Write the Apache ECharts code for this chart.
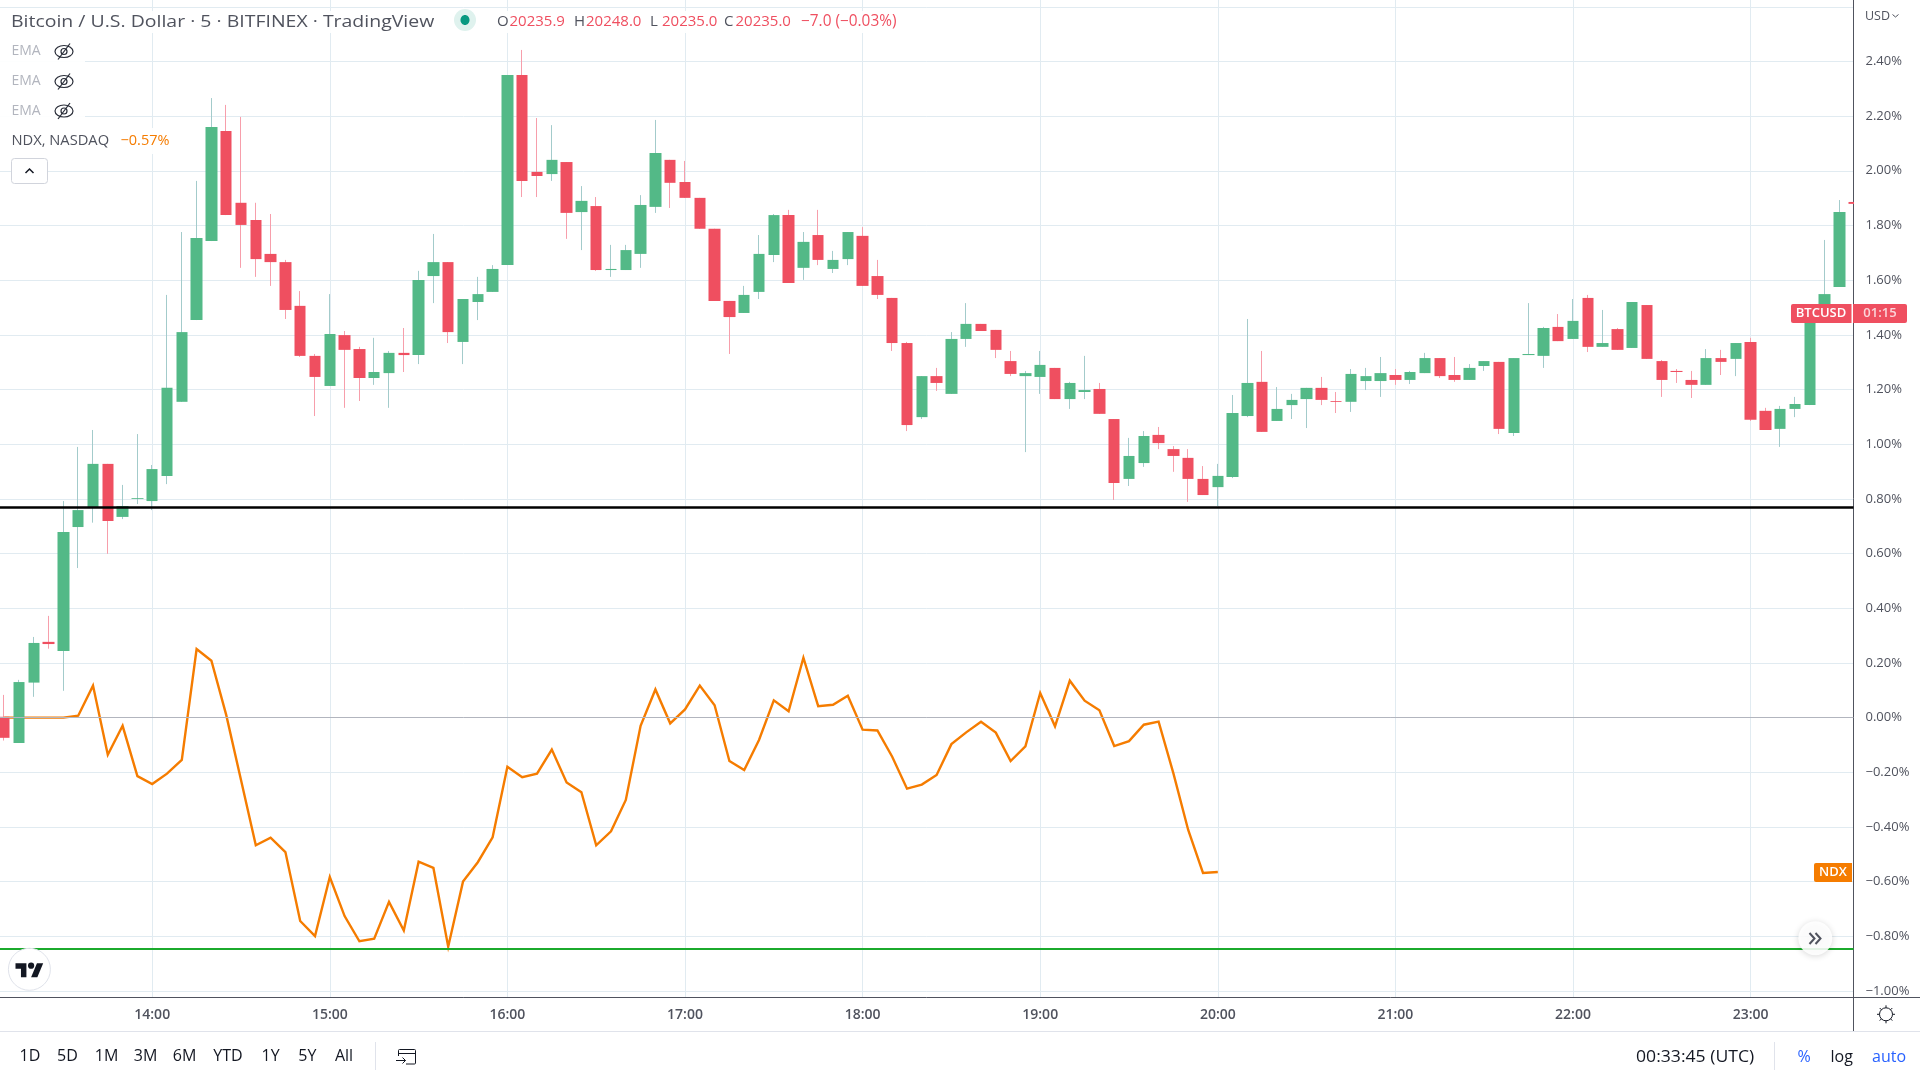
<!DOCTYPE html>
<html>
<head>
<meta charset="utf-8">
<title>BTCUSD vs NDX</title>
<script src="https://cdn.jsdelivr.net/npm/echarts@6/dist/echarts.min.js"></script>
<style>
html, body { margin: 0; padding: 0; background: #fff; }
#chart { width: 1920px; height: 1080px; }
</style>
</head>
<body>
<div id="chart"></div>
<script>
// 5 minute bars, in percent from the session start. first bar is 13:10
const firstBarMinute = 790
const barStep = 5

const opens = [
    0.003, -0.093, 0.128, 0.277, 0.244, 0.697, 0.769, 0.928, 0.734, 0.800,
    0.792, 0.884, 1.155, 1.454, 1.743, 2.146, 1.883, 1.820, 1.696, 1.666,
    1.506, 1.323, 1.213, 1.399, 1.348, 1.242, 1.260, 1.334, 1.326, 1.615,
    1.666, 1.374, 1.520, 1.557, 1.655, 2.350, 1.996, 1.988, 2.032, 1.849,
    1.871, 1.637, 1.637, 1.696, 1.868, 2.040, 1.959, 1.901, 1.788, 1.524,
    1.480, 1.557, 1.692, 1.838, 1.645, 1.765, 1.641, 1.677, 1.762, 1.615,
    1.535, 1.370, 1.099, 1.249, 1.184, 1.385, 1.440, 1.418, 1.304, 1.249,
    1.246, 1.279, 1.165, 1.191, 1.202, 1.092, 0.873, 0.931, 1.034, 0.982,
    0.950, 0.873, 0.843, 0.880, 1.103, 1.228, 1.085, 1.143, 1.165, 1.206,
    1.158, 1.155, 1.231, 1.231, 1.253, 1.235, 1.260, 1.315, 1.253, 1.235,
    1.286, 1.301, 1.041, 1.326, 1.323, 1.429, 1.385, 1.535, 1.356, 1.421,
    1.352, 1.509, 1.304, 1.268, 1.235, 1.217, 1.315, 1.312, 1.374, 1.122,
    1.056, 1.129, 1.143, 1.491, 1.575, 1.886
]
const closes = [
    -0.074, 0.130, 0.273, 0.269, 0.679, 0.759, 0.928, 0.719, 0.774, 0.803,
    0.909, 1.206, 1.410, 1.754, 2.160, 1.838, 1.802, 1.677, 1.666, 1.491,
    1.323, 1.246, 1.403, 1.345, 1.242, 1.264, 1.334, 1.326, 1.601, 1.666,
    1.410, 1.531, 1.549, 1.641, 2.350, 1.963, 1.981, 2.040, 1.846, 1.890,
    1.637, 1.641, 1.710, 1.875, 2.065, 1.956, 1.901, 1.788, 1.524, 1.465,
    1.546, 1.696, 1.838, 1.590, 1.740, 1.674, 1.674, 1.776, 1.579, 1.546,
    1.370, 1.070, 1.249, 1.224, 1.385, 1.440, 1.414, 1.345, 1.257, 1.260,
    1.290, 1.165, 1.224, 1.198, 1.111, 0.858, 0.957, 1.030, 1.004, 0.957,
    0.873, 0.814, 0.884, 1.114, 1.224, 1.045, 1.129, 1.162, 1.206, 1.162,
    1.155, 1.257, 1.249, 1.260, 1.235, 1.264, 1.315, 1.249, 1.235, 1.279,
    1.304, 1.056, 1.315, 1.330, 1.425, 1.377, 1.451, 1.356, 1.370, 1.345,
    1.520, 1.312, 1.235, 1.264, 1.217, 1.315, 1.301, 1.370, 1.089, 1.052,
    1.129, 1.147, 1.491, 1.549, 1.849, 1.879
]
const lows = [
    -0.084, -0.093, 0.076, 0.252, 0.098, 0.547, 0.713, 0.599, 0.726, 0.781,
    0.759, 0.854, 1.155, 1.454, 1.743, 1.838, 1.645, 1.612, 1.579, 1.458,
    1.319, 1.103, 1.213, 1.133, 1.158, 1.217, 1.133, 1.264, 1.293, 1.516,
    1.370, 1.293, 1.454, 1.557, 1.655, 1.904, 1.904, 1.963, 1.751, 1.710,
    1.634, 1.612, 1.637, 1.645, 1.846, 1.864, 1.901, 1.788, 1.524, 1.330,
    1.480, 1.531, 1.666, 1.590, 1.601, 1.655, 1.626, 1.655, 1.579, 1.531,
    1.341, 1.048, 1.092, 1.195, 1.184, 1.356, 1.414, 1.315, 1.249, 0.971,
    1.184, 1.165, 1.129, 1.165, 1.111, 0.796, 0.847, 0.917, 0.982, 0.899,
    0.789, 0.814, 0.774, 0.876, 1.099, 1.045, 1.085, 1.092, 1.059, 1.143,
    1.114, 1.118, 1.198, 1.173, 1.217, 1.220, 1.260, 1.242, 1.228, 1.235,
    1.268, 1.037, 1.030, 1.326, 1.279, 1.377, 1.385, 1.337, 1.356, 1.345,
    1.352, 1.312, 1.173, 1.224, 1.169, 1.217, 1.253, 1.249, 1.085, 1.052,
    0.990, 1.099, 1.143, 1.491, 1.575, 1.879
]
const highs = [
    0.083, 0.138, 0.295, 0.372, 0.792, 0.990, 1.052, 0.928, 0.851, 1.037,
    0.924, 1.546, 1.776, 1.963, 2.266, 2.241, 2.197, 1.883, 1.842, 1.674,
    1.560, 1.330, 1.549, 1.414, 1.356, 1.389, 1.341, 1.425, 1.634, 1.769,
    1.666, 1.531, 1.612, 1.655, 2.350, 2.442, 2.193, 2.167, 2.032, 1.944,
    1.904, 1.729, 1.729, 1.911, 2.186, 2.040, 2.036, 1.901, 1.788, 1.524,
    1.579, 1.765, 1.842, 1.857, 1.776, 1.857, 1.707, 1.776, 1.794, 1.674,
    1.535, 1.374, 1.249, 1.279, 1.410, 1.516, 1.440, 1.418, 1.341, 1.268,
    1.341, 1.279, 1.228, 1.323, 1.224, 1.092, 1.023, 1.048, 1.063, 0.993,
    0.982, 0.920, 0.928, 1.180, 1.458, 1.341, 1.209, 1.184, 1.206, 1.246,
    1.191, 1.275, 1.279, 1.319, 1.275, 1.268, 1.334, 1.315, 1.319, 1.293,
    1.304, 1.301, 1.315, 1.516, 1.429, 1.476, 1.531, 1.546, 1.491, 1.425,
    1.520, 1.509, 1.308, 1.275, 1.268, 1.348, 1.345, 1.370, 1.389, 1.133,
    1.140, 1.173, 1.491, 1.747, 1.893, 1.886
]
// NDX stops at 20:00, the cash session ended
const ndxValues = [
    0, 0, 0, 0, 0, 0.007, 0.117, -0.136, -0.030, -0.214,
    -0.243, -0.205, -0.155, 0.251, 0.208, 0.010, -0.228, -0.467, -0.439, -0.492,
    -0.744, -0.799, -0.583, -0.726, -0.818, -0.809, -0.674, -0.779, -0.527, -0.550,
    -0.838, -0.600, -0.529, -0.438, -0.180, -0.218, -0.205, -0.117, -0.237, -0.273,
    -0.467, -0.416, -0.301, -0.030, 0.103, -0.021, 0.030, 0.117, 0.045, -0.159,
    -0.192, -0.082, 0.063, 0.023, 0.219, 0.042, 0.047, 0.080, -0.044, -0.047,
    -0.143, -0.260, -0.245, -0.210, -0.097, -0.054, -0.015, -0.055, -0.159, -0.105,
    0.090, -0.032, 0.135, 0.062, 0.027, -0.104, -0.086, -0.026, -0.015, -0.204,
    -0.411, -0.568, -0.565
]
const hourTicks = [840, 900, 960, 1020, 1080, 1140, 1200, 1260, 1320, 1380]
const priceTicks = [-1, -0.8, -0.6, -0.4, -0.2, 0, 0.2, 0.4, 0.6, 0.8, 1, 1.2, 1.4, 1.6, 1.8, 2, 2.2, 2.4, 2.6]
const priceLabels = [-1, -0.8, -0.6, -0.4, -0.2, 0, 0.2, 0.4, 0.6, 0.8, 1, 1.2, 1.4, 1.6, 1.8, 2, 2.2, 2.4]
const blackLevel = 0.769
const greenLevel = -0.846
const rangeButtons = [['1D', 30], ['5D', 67.5], ['1M', 106.5], ['3M', 145.5], ['6M', 184.5], ['YTD', 228], ['1Y', 270.6], ['5Y', 307.3], ['All', 344]]

const UP = '#53B987'
const DOWN = '#EF4F60'
const UP_WICK = '#A3CBCB'
const DOWN_WICK = '#F79EAB'
const GRID = '#E1EBF1'
const AXIS = '#50535E'
const ORANGE = '#F57C00'
const FONT = '"Open Sans", sans-serif'

const barMinutes = opens.map((o, i) => firstBarMinute + i * barStep)
const wickData = opens.map((o, i) => [barMinutes[i], o, closes[i], lows[i], highs[i]])
// bodies are drawn on their own so the wick colour does not outline them
const bodyData = opens.map((o, i) => [barMinutes[i], o, closes[i], Math.min(o, closes[i]), Math.max(o, closes[i])])
const ndxData = ndxValues.map((v, i) => [barMinutes[i], v])

function label(text, x, y, color, size, extra) {
    return {
        type: 'text', z: 102, x: x, y: y,
        style: Object.assign({ text: text, fill: color, font: size + 'px ' + FONT, textVerticalAlign: 'middle' }, extra || {}),
    }
}
function eyeOff(cx, cy) {
    const stroke = { stroke: '#2A2E39', fill: 'none', lineWidth: 1.2 }
    return [
        { type: 'ellipse', z: 102, shape: { cx: cx, cy: cy, rx: 9, ry: 6 }, style: stroke },
        { type: 'circle', z: 102, shape: { cx: cx, cy: cy, r: 3 }, style: stroke },
        { type: 'line', z: 102, shape: { x1: cx - 6, y1: cy + 8, x2: cx + 6, y2: cy - 8 }, style: stroke },
    ]
}

function chrome() {
    const parts = []
    // white backing behind the legend rows
    ;[[0, 11, 905, 22], [0, 38, 85, 26], [0, 68, 85, 26], [0, 98, 85, 26], [0, 128, 176, 26]].forEach(r => {
        parts.push({ type: 'rect', z: 100, shape: { x: r[0], y: r[1], width: r[2], height: r[3] }, style: { fill: 'rgba(255,255,255,0.92)' } })
    })
    const title = label('Bitcoin / U.S. Dollar · 5 · BITFINEX · TradingView', 11, 22, '#50535E', 17)
    title.scaleX = 1.145
    parts.push(title)
    parts.push({ type: 'circle', z: 101, shape: { cx: 465, cy: 20, r: 11 }, style: { fill: '#DFF2EE' } })
    parts.push({ type: 'ellipse', z: 102, shape: { cx: 465, cy: 20, rx: 4.5, ry: 5 }, style: { fill: '#089981' } })
    ;[['O', 497, '20235.9', 509.5], ['H', 574, '20248.0', 586], ['L', 650, '20235.0', 662], ['C', 724, '20235.0', 735.5]].forEach(p => {
        parts.push(label(p[0], p[1], 22, '#50535E', 15))
        parts.push(label(p[2], p[3], 22, DOWN, 15))
    })
    parts.push(label('−7.0 (−0.03%)', 801, 22, DOWN, 15.4))

    ;[51.5, 81.5, 111].forEach(y => {
        parts.push(label('EMA', 11.5, y, '#B2B5BE', 14))
        parts.push.apply(parts, eyeOff(64, y))
    })
    parts.push(label('NDX, NASDAQ', 11.5, 141, '#50535E', 14.7))
    parts.push(label('−0.57%', 120.5, 141, ORANGE, 14.5))
    parts.push({ type: 'rect', z: 101, shape: { x: 11.5, y: 158.5, width: 36, height: 25, r: 3 }, style: { fill: '#fff', stroke: '#D1D4DC', lineWidth: 1 } })
    parts.push({ type: 'polyline', z: 102, shape: { points: [[25.5, 173], [29.5, 169], [33.5, 173]] }, style: { stroke: '#131722', fill: 'none', lineWidth: 1.5 } })

    // logo
    parts.push({ type: 'circle', z: 101, shape: { cx: 29.4, cy: 969.3, r: 21 }, style: { fill: '#fff', stroke: '#E0E3EB', lineWidth: 1 } })
    ;[
        [[14, 22], [7, 22], [7, 11], [0, 11], [0, 4], [14, 4]],
        [[28, 22], [20, 22], [27.5, 4], [35.5, 4]],
    ].forEach(points => {
        parts.push({ type: 'polygon', z: 102, x: 15.5, y: 960.2, scaleX: 0.78, scaleY: 0.78, shape: { points: points }, style: { fill: '#131722' } })
    })
    parts.push({ type: 'circle', z: 102, x: 15.5, y: 960.2, scaleX: 0.78, scaleY: 0.78, shape: { cx: 20, cy: 7, r: 4 }, style: { fill: '#131722' } })

    // the last bar runs under the price scale, candlesticks only clip whole boxes
    parts.push({ type: 'rect', z: 50, shape: { x: 1854, y: 190, width: 8, height: 22 }, style: { fill: '#fff' } })

    // price scale chips
    parts.push({ type: 'rect', z: 103, shape: { x: 1791, y: 304, width: 60.5, height: 19, r: [2, 0, 0, 2] }, style: { fill: DOWN } })
    parts.push({ type: 'rect', z: 103, shape: { x: 1853, y: 304, width: 54, height: 19, r: [0, 2, 2, 0] }, style: { fill: DOWN } })
    parts.push(Object.assign(label('BTCUSD', 1821, 313.5, '#fff', 13, { textAlign: 'center', font: '600 13px ' + FONT }), { z: 104 }))
    parts.push(Object.assign(label('01:15', 1880, 313.5, '#FBD5DA', 13, { textAlign: 'center', font: '600 13px ' + FONT }), { z: 104 }))
    parts.push({ type: 'rect', z: 103, shape: { x: 1814, y: 863, width: 38, height: 19, r: [2, 0, 0, 2] }, style: { fill: ORANGE } })
    parts.push(Object.assign(label('NDX', 1833, 872.5, '#fff', 13, { textAlign: 'center', font: '600 13px ' + FONT }), { z: 104 }))
    parts.push(label('USD', 1865, 16, AXIS, 12.5))
    parts.push({ type: 'polyline', z: 102, shape: { points: [[1892.5, 14.5], [1895.5, 17], [1898.5, 14.5]] }, style: { stroke: AXIS, fill: 'none', lineWidth: 1 } })

    // scroll to latest button
    parts.push({ type: 'circle', z: 101, shape: { cx: 1815.3, cy: 938.3, r: 17 }, style: { fill: 'rgba(255,255,255,0.88)', shadowBlur: 6, shadowColor: 'rgba(0,0,0,0.18)', shadowOffsetY: 1 } })
    ;[0, 6].forEach(dx => {
        parts.push({ type: 'polyline', z: 102, shape: { points: [[1809.5 + dx, 933], [1814.5 + dx, 938.5], [1809.5 + dx, 944]] }, style: { stroke: '#50535E', fill: 'none', lineWidth: 2 } })
    })

    // axis frame that the grid does not cover
    parts.push({ type: 'line', z: 102, shape: { x1: 1853.5, y1: 997.5, x2: 1853.5, y2: 1031 }, style: { stroke: AXIS, lineWidth: 1 } })
    parts.push({ type: 'line', z: 102, shape: { x1: 1853.5, y1: 997.5, x2: 1920, y2: 997.5 }, style: { stroke: AXIS, lineWidth: 1 } })
    parts.push({ type: 'line', z: 102, shape: { x1: 0, y1: 1031.5, x2: 1920, y2: 1031.5 }, style: { stroke: '#E0E3EB', lineWidth: 1 } })

    // settings icon
    parts.push({ type: 'circle', z: 102, shape: { cx: 1886, cy: 1014.3, r: 6.5 }, style: { stroke: '#131722', fill: 'none', lineWidth: 1 } })
    ;[[0, -1], [0.7, -0.7], [1, 0], [0.7, 0.7], [0, 1], [-0.7, 0.7], [-1, 0], [-0.7, -0.7]].forEach(d => {
        parts.push({ type: 'line', z: 102, shape: { x1: 1886 + d[0] * 6.5, y1: 1014.3 + d[1] * 6.5, x2: 1886 + d[0] * 9, y2: 1014.3 + d[1] * 9 }, style: { stroke: '#131722', lineWidth: 1 } })
    })

    // bottom toolbar
    rangeButtons.forEach(b => {
        parts.push(label(b[0], b[1], 1056, '#131722', 16, { textAlign: 'center' }))
    })
    parts.push({ type: 'line', z: 102, shape: { x1: 375.5, y1: 1042, x2: 375.5, y2: 1070 }, style: { stroke: '#E0E3EB', lineWidth: 1 } })
    parts.push({ type: 'rect', z: 102, shape: { x: 398.5, y: 1049.5, width: 17, height: 14.5, r: 1 }, style: { stroke: '#131722', fill: 'none', lineWidth: 1 } })
    parts.push({ type: 'rect', z: 102, shape: { x: 395, y: 1056, width: 11, height: 9 }, style: { fill: '#fff' } })
    parts.push({ type: 'line', z: 102, shape: { x1: 398.5, y1: 1053.5, x2: 415.5, y2: 1053.5 }, style: { stroke: '#131722', lineWidth: 1 } })
    parts.push({ type: 'polyline', z: 102, shape: { points: [[396, 1060.5], [405.5, 1060.5]] }, style: { stroke: '#131722', fill: 'none', lineWidth: 1 } })
    parts.push({ type: 'polyline', z: 102, shape: { points: [[402.5, 1057.5], [405.5, 1060.5], [402.5, 1063.5]] }, style: { stroke: '#131722', fill: 'none', lineWidth: 1 } })
    const clock = label('00:33:45 (UTC)', 1636, 1057, '#131722', 16)
    clock.scaleX = 1.1
    parts.push(clock)
    parts.push({ type: 'line', z: 102, shape: { x1: 1774.5, y1: 1042, x2: 1774.5, y2: 1070 }, style: { stroke: '#E0E3EB', lineWidth: 1 } })
    parts.push(label('%', 1804, 1057, '#2962FF', 16, { textAlign: 'center' }))
    parts.push(label('log', 1841.7, 1057, '#131722', 16, { textAlign: 'center' }))
    parts.push(label('auto', 1889, 1057, '#2962FF', 16, { textAlign: 'center' }))
    return parts
}

const chart = echarts.init(document.getElementById('chart'), null, { renderer: 'canvas' })
chart.setOption({
    animation: false,
    backgroundColor: '#fff',
    grid: { left: 0, top: 0, width: 1853.5, height: 997.5 },
    xAxis: {
        type: 'value',
        min: 788.58,
        max: 1414.76,
        axisLine: { onZero: false, lineStyle: { color: AXIS, width: 1 } },
        axisTick: { show: false, customValues: hourTicks },
        splitLine: { show: true, lineStyle: { color: GRID, width: 1 } },
        axisLabel: {
            customValues: hourTicks,
            color: AXIS,
            fontFamily: FONT,
            fontSize: 14,
            fontWeight: 600,
            margin: 11,
            formatter: v => (v / 60) + ':00',
        },
    },
    yAxis: {
        type: 'value',
        position: 'right',
        min: -1.0238,
        max: 2.6247,
        axisLine: { show: true, lineStyle: { color: AXIS, width: 1 } },
        axisTick: { show: false, customValues: priceTicks },
        splitLine: { show: true, lineStyle: { color: GRID, width: 1 } },
        axisLabel: {
            customValues: priceLabels,
            color: AXIS,
            fontFamily: FONT,
            fontSize: 13,
            margin: 12,
            padding: [4, 0, 0, 0],
            formatter: v => (v < 0 ? '−' : '') + Math.abs(v).toFixed(2) + '%',
        },
    },
    graphic: { elements: chrome() },
    series: [
        {
            name: 'NDX',
            type: 'line',
            z: 1,
            data: ndxData,
            showSymbol: false,
            lineStyle: { color: ORANGE, width: 2.4, join: 'miter' },
            itemStyle: { color: ORANGE },
            silent: true,
            markLine: {
                silent: true,
                symbol: 'none',
                precision: 3,
                label: { show: false },
                lineStyle: { color: '#B2B5BE', width: 1, type: 'solid' },
                data: [{ yAxis: 0 }],
            },
        },
        {
            name: 'BTCUSD wicks',
            type: 'candlestick',
            z: 2,
            barWidth: 1,
            encode: { x: 0, y: [1, 2, 3, 4] },
            data: wickData,
            silent: true,
            itemStyle: { color: UP_WICK, color0: DOWN_WICK, borderColor: UP_WICK, borderColor0: DOWN_WICK, borderWidth: 1 },
        },
        {
            name: 'BTCUSD',
            type: 'candlestick',
            z: 3,
            barWidth: 12,
            encode: { x: 0, y: [1, 2, 3, 4] },
            data: bodyData,
            silent: true,
            itemStyle: { color: UP, color0: DOWN, borderColor: UP, borderColor0: DOWN, borderWidth: 0 },
            markLine: {
                silent: true,
                symbol: 'none',
                precision: 3,
                label: { show: false },
                data: [
                    { yAxis: blackLevel, lineStyle: { color: '#000', width: 2.5, type: 'solid' } },
                    { yAxis: greenLevel, lineStyle: { color: '#1BAA2C', width: 2.2, type: 'solid' } },
                ],
            },
        },
    ],
})
</script>
</body>
</html>
